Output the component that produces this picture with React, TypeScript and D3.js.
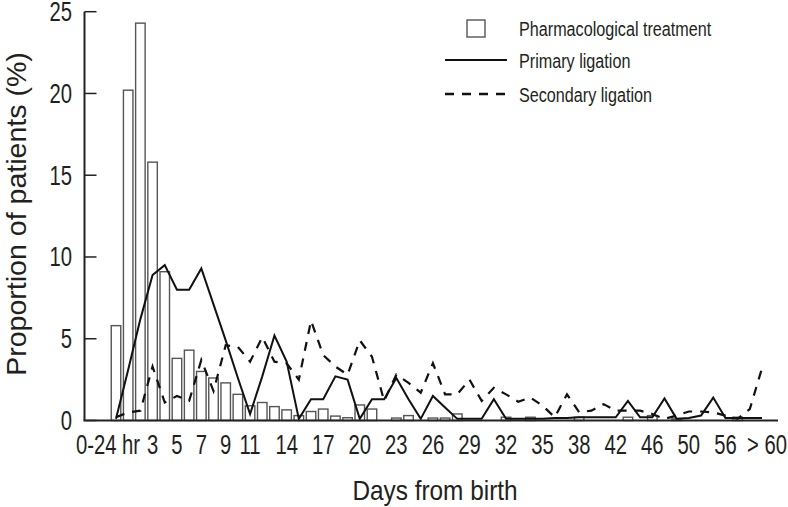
import React from "react";
import * as d3 from "d3";

const categories = [
  "0-24 hr", "1", "2", "3", "4", "5", "6", "7", "8", "9", "10", "11", "12", "13", "14", "15", "16", "17", "18", "19",
  "20", "21", "22", "23", "24", "25", "26", "27", "28", "29", "30", "31", "32", "33", "34", "35", "36", "37", "38",
  "40", "41", "42", "43", "45", "46", "47", "49", "50", "52", "54", "56", "57", "59", "> 60",
];

const pharmacological = [
  5.8, 20.2, 24.3, 15.8, 9.1, 3.8, 4.3, 3.0, 2.6, 2.3, 1.6, 0.9, 1.1, 0.85, 0.65, 0.3, 0.55, 0.7, 0.27, 0.17,
  0.95, 0.7, 0, 0.15, 0.3, 0, 0.15, 0.15, 0.4, 0, 0, 0, 0.2, 0, 0.2, 0, 0, 0, 0.2,
  0, 0, 0, 0.2, 0, 0.3, 0, 0.1, 0, 0, 0, 0, 0.2, 0, 0,
];

const primaryLigation = [
  0.1, 3.1, 6.2, 8.9, 9.5, 8.0, 8.0, 9.3, 7.1, 4.9, 2.6, 0.4, 2.7, 5.2, 3.6, 0.1, 1.3, 1.3, 2.7, 2.5,
  0.1, 1.3, 1.3, 2.6, 1.3, 0.1, 1.5, 0.8, 0.1, 0.1, 0.1, 1.3, 0.1, 0.1, 0.1, 0.1, 0.15, 0.15, 0.2,
  0.2, 0.2, 0.2, 1.2, 0.2, 0.2, 1.35, 0.1, 0.15, 0.3, 1.4, 0.15, 0.15, 0.15, 0.15,
];

const secondaryLigation = [
  0.2, 0.5, 0.6, 3.3, 1.1, 1.5, 1.2, 3.7, 1.8, 4.6, 4.5, 3.6, 5.1, 3.6, 3.5, 2.5, 6.1, 4.0, 3.3, 2.8,
  4.9, 3.9, 1.2, 2.8, 2.3, 1.7, 3.5, 1.6, 1.6, 2.5, 1.2, 2.0, 1.6, 1.15, 1.4, 0.9, 0.2, 1.6, 0.5,
  0.6, 1.0, 0.6, 0.6, 0.6, 0.4, 0.1, 0.3, 0.55, 0.55, 0.5, 0.3, 0.1, 0.7, 3.2,
];

const xTickLabels = ["0-24 hr", "3", "5", "7", "9", "11", "14", "17", "20", "23", "26", "29", "32", "35", "38", "42", "46", "50", "56", "> 60"];
const yTicks = [0, 5, 10, 15, 20, 25];

const legendItems = ["Pharmacological treatment", "Primary ligation", "Secondary ligation"];

const FONT = "'Liberation Sans', Arial, 'Helvetica Neue', sans-serif";

type CTProps = {
  x: number;
  y: number;
  size: number;
  sx?: number;
  anchor?: "start" | "middle" | "end";
  rotate?: number;
  children: React.ReactNode;
};

function CText({ x, y, size, sx = 0.75, anchor = "start", rotate = 0, children }: CTProps) {
  return (
    <text
      transform={`translate(${x},${y}) rotate(${rotate}) scale(${sx},1)`}
      textAnchor={anchor}
      fontSize={size}
      fill="#231f20"
    >
      {children}
    </text>
  );
}

export default function App() {
  const W = 788;
  const H = 507;
  const axisX = 84.5;
  const axisY = 420.5;
  const x = d3.scalePoint<string>().domain(categories).range([116, 762]);
  const step = x.step();
  const barW = step * 0.78;
  const y = d3.scaleLinear().domain([0, 25]).range([axisY, 11.7]);

  const lineGen = d3
    .line<number>()
    .x((_, i) => x(categories[i]) as number)
    .y((d) => y(d));

  const labelShift = (l: string) => (l === "0-24 hr" ? -8 : l === "> 60" ? 5 : 0);

  return (
    <svg
      width={W}
      height={H}
      style={{ position: "absolute", left: 0, top: 0, background: "#fff" }}
      fontFamily={FONT}
    >
      {/* bars */}
      {pharmacological.map((v, i) =>
        v > 0 ? (
          <rect
            key={i}
            x={(x(categories[i]) as number) - barW / 2}
            y={y(v)}
            width={barW}
            height={axisY - y(v)}
            fill="#fff"
            stroke="#555"
            strokeWidth={1.4}
          />
        ) : null
      )}
      {/* lines */}
      <path d={lineGen(primaryLigation) || ""} fill="none" stroke="#111" strokeWidth={2} />
      <path d={lineGen(secondaryLigation) || ""} fill="none" stroke="#111" strokeWidth={2.2} strokeDasharray="9,8" />

      {/* axes */}
      <line x1={axisX} x2={axisX} y1={y(25)} y2={axisY} stroke="#222" strokeWidth={2} />
      <line x1={axisX - 1} x2={778} y1={axisY} y2={axisY} stroke="#222" strokeWidth={2.2} />
      {yTicks.map((t) => (
        <g key={t}>
          <line x1={axisX} x2={axisX + 12} y1={y(t)} y2={y(t)} stroke="#222" strokeWidth={1.5} />
          <CText x={72} y={y(t) + 9.5} size={27} anchor="end">
            {t}
          </CText>
        </g>
      ))}
      {xTickLabels.map((l) => (
        <CText key={l} x={(x(l) as number) + labelShift(l)} y={454} size={27} anchor="middle">
          {l}
        </CText>
      ))}

      {/* axis titles */}
      <CText x={435} y={500} size={28} sx={0.87} anchor="middle">
        Days from birth
      </CText>
      <CText x={26} y={214} size={28} sx={1.02} anchor="middle" rotate={-90}>
        Proportion of patients (%)
      </CText>

      {/* legend */}
      <rect x={467} y={20} width={18} height={17} fill="#fff" stroke="#555" strokeWidth={1.4} />
      <line x1={445} x2={507} y1={60} y2={60} stroke="#111" strokeWidth={2} />
      <line x1={445} x2={507} y1={94} y2={94} stroke="#111" strokeWidth={2.6} strokeDasharray="9,8" />
      {legendItems.map((t, i) => (
        <CText key={t} x={519} y={[28, 60, 94][i] + 7.5} size={21} sx={0.77}>
          {t}
        </CText>
      ))}
    </svg>
  );
}
